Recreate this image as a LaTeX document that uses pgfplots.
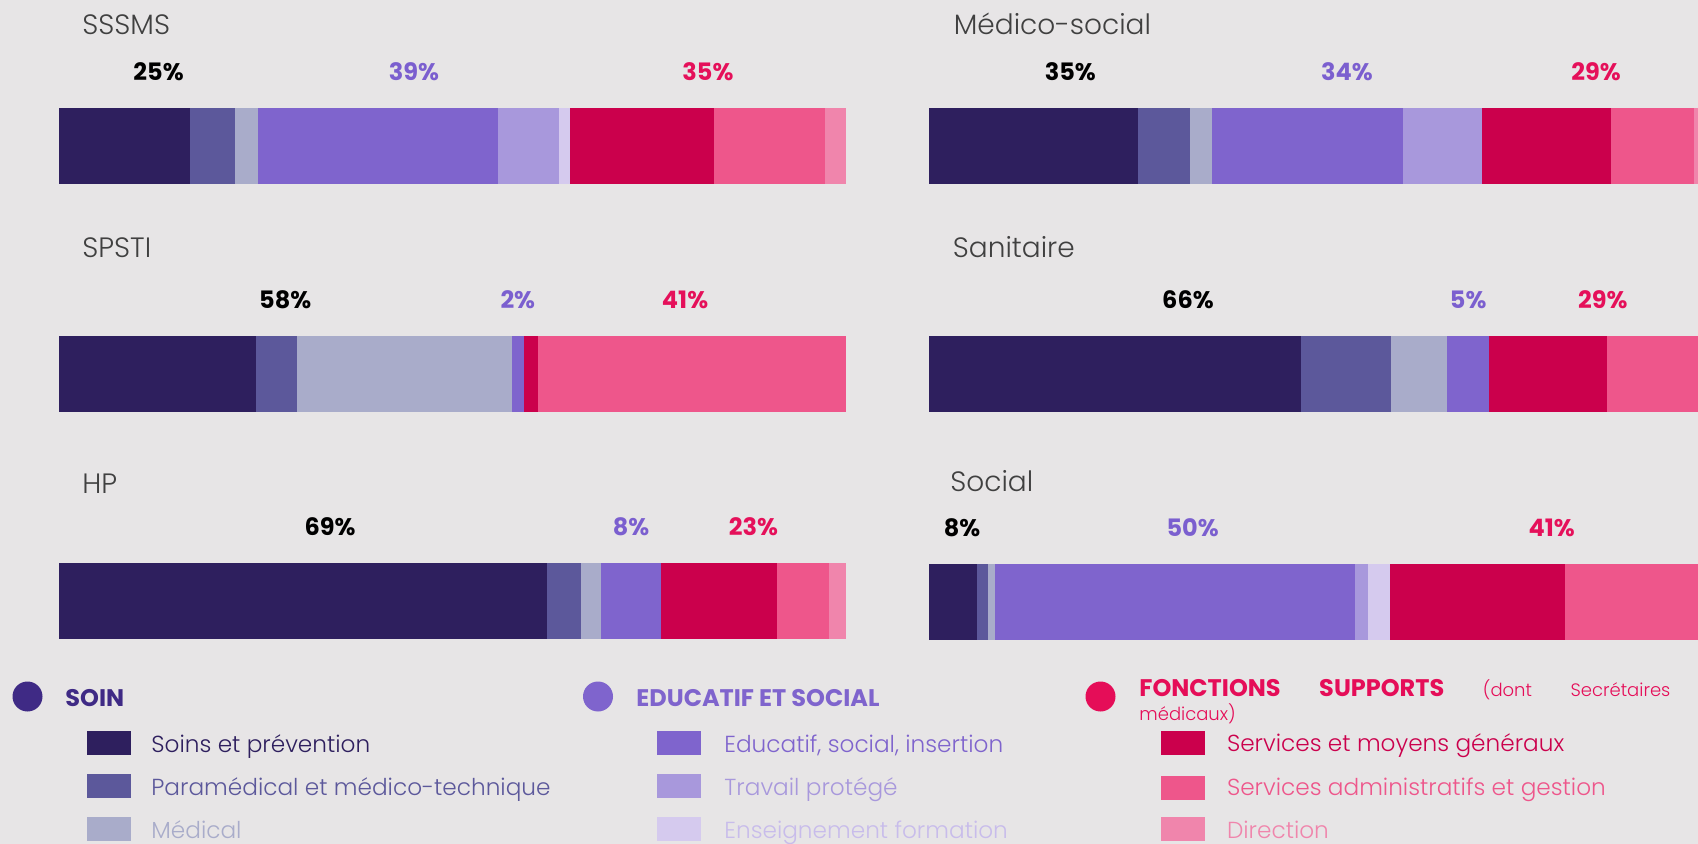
\documentclass[border=0pt]{standalone}
\usepackage{pgfplots}
\pgfplotsset{compat=1.18}
\usepackage{fontspec}
\setmainfont{Poppins}
\newfontfamily\lightfont{Poppins}[UprightFont=* Light]

\definecolor{bg}{HTML}{E7E5E6}
\definecolor{cSoin}{HTML}{2E1F5E}
\definecolor{cPara}{HTML}{5C589B}
\definecolor{cMed}{HTML}{A9ACCA}
\definecolor{cEdu}{HTML}{7F64CD}
\definecolor{cTrav}{HTML}{A898DC}
\definecolor{cEns}{HTML}{D5CAEE}
\definecolor{cSmg}{HTML}{CB004C}
\definecolor{cAdm}{HTML}{EE568B}
\definecolor{cDir}{HTML}{F085AC}
\definecolor{hSoin}{HTML}{3F2A85}
\definecolor{hSup}{HTML}{E50D58}
\definecolor{tEdu}{HTML}{7B5FCF}
\definecolor{tSup}{HTML}{E5105A}
\definecolor{tEns}{HTML}{C8BCEB}
\definecolor{ttl}{HTML}{404040}

\pgfplotsset{
  panel/.style={xbar stacked, hide axis, scale only axis,
    height=38pt, ymin=-0.5, ymax=0.5, xmin=0,
    bar width=38pt, bar shift=0pt, clip mode=individual,
    anchor=north west,
    every axis plot/.append style={draw=none}},
  leftp/.style={panel, width=393.5pt, xmax=100},
  rightp/.style={panel, width=384.5pt, xmax=97.7},
  ens/.style={fill=cEns},
}
% one stacked bar: 9 segments, in %
\newcommand{\segs}[9]{%
  \addplot[fill=cSoin] coordinates {(#1,0)};
  \addplot[fill=cPara] coordinates {(#2,0)};
  \addplot[fill=cMed]  coordinates {(#3,0)};
  \addplot[fill=cEdu]  coordinates {(#4,0)};
  \addplot[fill=cTrav] coordinates {(#5,0)};
  \addplot[ens]        coordinates {(#6,0)};
  \addplot[fill=cSmg]  coordinates {(#7,0)};
  \addplot[fill=cAdm]  coordinates {(#8,0)};
  \addplot[fill=cDir]  coordinates {(#9,0)};
}
\tikzset{
  pct/.style={anchor=base, yshift=13.5pt, font=\fontsize{12}{12}\selectfont\bfseries},
  ttlnode/.style={anchor=base west, inner sep=0pt, text=ttl, font=\lightfont\fontsize{14}{14}\selectfont},
  legtxt/.style={anchor=base west, inner sep=0pt, font=\lightfont\fontsize{11.6}{12}\selectfont},
  hdr/.style={anchor=base west, inner sep=0pt, font=\fontsize{12}{12}\selectfont\bfseries},
}
\newcommand{\pct}[3]{\node[pct, text=#3] at (axis cs:#1,0.5) {#2};}

\begin{document}
\begin{tikzpicture}[x=1pt,y=1pt]
\useasboundingbox (0,0) rectangle (849,-422);
\fill[bg] (0,0) rectangle (849,-422);

% titles
\node[ttlnode] at (41,-17.5) {SSSMS};
\node[ttlnode] at (476.75,-17.25) {Médico-social};
\node[ttlnode] at (41,-129) {SPSTI};
\node[ttlnode] at (476.25,-128.85) {Sanitaire};
\node[ttlnode] at (41,-247) {HP};
\node[ttlnode] at (475,-245.85) {Social};

% SSSMS
\begin{axis}[leftp, at={(29.5pt,-54pt)}]
\segs{16.7}{5.7}{2.9}{30.5}{7.7}{1.4}{18.3}{14.1}{2.7}
\pct{12.65}{25\%}{black}
\pct{45.1}{39\%}{tEdu}
\pct{82.45}{35\%}{tSup}
\end{axis}

% SPSTI
\begin{axis}[leftp, at={(29.5pt,-168pt)}]
\segs{25.0}{5.2}{27.3}{1.6}{0}{0}{1.8}{39.1}{0}
\pct{28.75}{58\%}{black}
\pct{58.3}{2\%}{tEdu}
\pct{79.55}{41\%}{tSup}
\end{axis}

% HP
\begin{axis}[leftp, at={(29.5pt,-281.5pt)}, ens/.append style={draw=white, line width=0.5pt}]
\segs{62.0}{4.3}{2.6}{7.6}{0}{0}{14.7}{6.6}{2.2}
\pct{34.45}{69\%}{black}
\pct{72.7}{8\%}{tEdu}
\pct{88.25}{23\%}{tSup}
\end{axis}

% Medico-social
\begin{axis}[rightp, at={(464.5pt,-54pt)}, ens/.append style={draw=white, line width=0.6pt}]
\segs{26.6}{6.6}{2.7}{24.3}{10.1}{0}{16.4}{10.5}{2.0}
\pct{17.95}{35\%}{black}
\pct{53.1}{34\%}{tEdu}
\pct{84.75}{29\%}{tSup}
\end{axis}

% Sanitaire
\begin{axis}[rightp, at={(464.5pt,-168pt)}, ens/.append style={draw=white, line width=0.5pt}]
\segs{47.2}{11.5}{7.1}{5.4}{0}{0}{15.0}{12.0}{1.8}
\pct{32.9}{66\%}{black}
\pct{68.5}{5\%}{tEdu}
\pct{85.6}{29\%}{tSup}
\end{axis}

% Social
\begin{axis}[rightp, at={(464.5pt,-282pt)}]
\segs{6.1}{1.4}{0.9}{45.7}{1.7}{2.8}{22.2}{17.0}{1.8}
\pct{4.2}{8\%}{black}
\pct{33.5}{50\%}{tEdu}
\pct{79.1}{41\%}{tSup}
\end{axis}

% legend: SOIN
\fill[hSoin] (13.75,-348.25) circle (7.5);
\node[hdr, text=hSoin] at (32.5,-353.3) {SOIN};
\fill[cSoin] (43.5,-365.5) rectangle (65.5,-377.5);
\fill[cPara] (43.5,-387) rectangle (65.5,-399);
\fill[cMed]  (43.5,-408.5) rectangle (65.5,-420.5);
\node[legtxt, text=cSoin] at (75.5,-376) {Soins et prévention};
\node[legtxt, text=cPara] at (75.5,-397.5) {Paramédical et médico-technique};
\node[legtxt, text=cMed]  at (75.5,-419) {Médical};

% legend: EDUCATIF ET SOCIAL
\fill[cEdu] (299,-348.25) circle (7.5);
\node[hdr, text=cEdu] at (318,-353.3) {EDUCATIF ET SOCIAL};
\fill[cEdu]  (328.5,-365.5) rectangle (350.5,-377.5);
\fill[cTrav] (328.5,-387) rectangle (350.5,-399);
\fill[cEns]  (328.5,-408.5) rectangle (350.5,-420.5);
\node[legtxt, text=cEdu]  at (362,-376) {Educatif, social, insertion};
\node[legtxt, text=cTrav] at (362,-397.5) {Travail protégé};
\node[legtxt, text=tEns]  at (362,-419) {Enseignement formation};

% legend: FONCTIONS SUPPORTS
\fill[hSup] (550.25,-348.25) circle (7.5);
\node[anchor=base west, text=hSup, inner sep=0pt] at (569.5,-348)
  {\makebox[265.5pt][l]{\fontsize{12}{12}\selectfont\bfseries FONCTIONS\hfill SUPPORTS\hfill
   \lightfont\mdseries\fontsize{9}{9}\selectfont (dont\hfill Secrétaires}};
\node[anchor=base west, text=hSup, inner sep=0pt, font=\lightfont\fontsize{9}{9}\selectfont] at (569.5,-360) {médicaux)};
\fill[cSmg] (580.5,-365.5) rectangle (602.5,-377.5);
\fill[cAdm] (580.5,-388) rectangle (602.5,-400);
\fill[cDir] (580.5,-408.5) rectangle (602.5,-420.5);
\node[legtxt, text=cSmg] at (613.3,-375.5) {Services et moyens généraux};
\node[legtxt, text=cAdm] at (613.3,-397.5) {Services administratifs et gestion};
\node[legtxt, text=cDir] at (613.3,-419) {Direction};
\end{tikzpicture}
\end{document}
